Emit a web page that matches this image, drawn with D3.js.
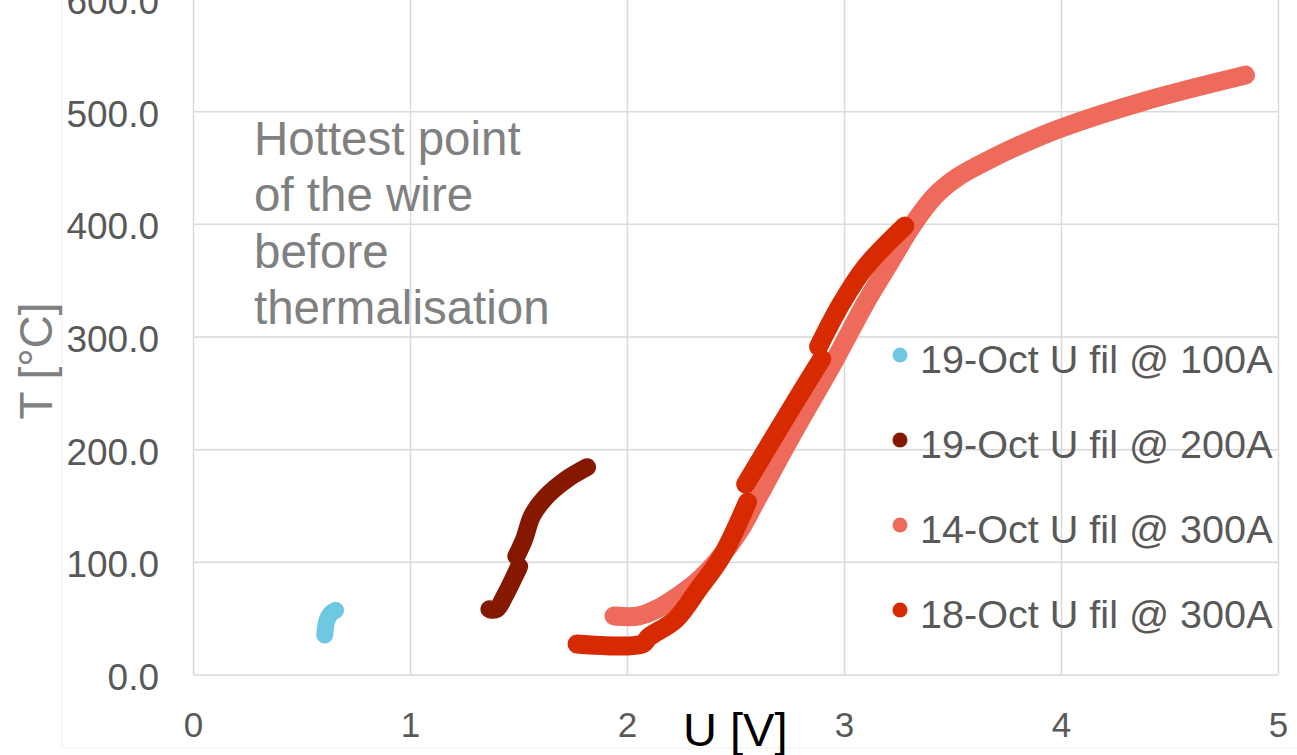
<!DOCTYPE html>
<html>
<head>
<meta charset="utf-8">
<script src="https://cdn.jsdelivr.net/npm/d3@7"></script>
<style>
  body { margin: 0; background: #fff; }
  text { font-family: "Liberation Sans", Arial, sans-serif; }
</style>
</head>
<body>
<div id="vis"></div>
<script>
// data (null = gap in the trace)
var seriesNames = ["19-Oct U fil @ 100A", "19-Oct U fil @ 200A", "14-Oct U fil @ 300A", "18-Oct U fil @ 300A"];
var seriesColors = ["#6fc8e2", "#861800", "#ee6a5a", "#d82a00"];

var u100 = [0.607, 0.616, 0.634, 0.657];
var t100 = [35, 47, 54, 57];

var u200 = [1.366, 1.398, 1.44, 1.503, null, 1.49, 1.526, 1.563, 1.628, 1.72, 1.816];
var t200 = [58, 58, 71, 96, null, 105, 120, 141, 158, 173, 184];

var u300a = [1.94, 2.055, 2.147, 2.23, 2.32, 2.42, 2.52, 2.60, 2.75, 2.96, 3.10, 3.20, 3.32, 3.42, 3.52, 3.65, 3.80, 4.0, 4.386, 4.85];
var t300a = [52, 52, 59, 69, 82, 102, 128, 156, 209, 280, 330, 362, 400, 425, 441, 455, 469, 485, 509, 532];

var u300b = [1.77, 2.07, 2.10, 2.225, 2.33, 2.437, 2.555, null, 2.547, 2.775, 2.897, null, 2.883, 2.99, 3.10, 3.28];
var t300b = [27, 27, 33, 49, 76, 105, 153, null, 169, 242, 280, null, 291, 330, 362, 398];

var xTicks = [0, 1, 2, 3, 4, 5];
var yTicks = [0, 100, 200, 300, 400, 500, 600];

var noteLines = ["Hottest point", "of the wire", "before", "thermalisation"];

var W = 1297, H = 755;

var svg = d3.select("#vis").append("svg")
    .attr("width", W)
    .attr("height", H);

// faint chart area border
svg.append("rect")
    .attr("x", 62).attr("y", -10)
    .attr("width", 1300).attr("height", 758)
    .attr("fill", "none")
    .attr("stroke", "#efefef");

var x = d3.scaleLinear().domain([0, 5]).range([193, 1278]);
var y = d3.scaleLinear().domain([0, 600]).range([674.5, -1.5]);

// gridlines
var gx = svg.append("g")
    .attr("transform", "translate(0," + y(0) + ")")
    .call(d3.axisBottom(x).tickValues(xTicks).tickSize(-(y(0) - y(600))).tickFormat(""));
var gy = svg.append("g")
    .attr("transform", "translate(" + x(0) + ",0)")
    .call(d3.axisLeft(y).tickValues(yTicks).tickSize(-(x(5) - x(0))).tickFormat(""));
gx.select(".domain").remove();
gy.select(".domain").remove();
svg.selectAll(".tick line").attr("stroke", "#d9d9d9").attr("stroke-width", 1.5);

// tick labels
var ax = svg.append("g")
    .attr("transform", "translate(0," + y(0) + ")")
    .call(d3.axisBottom(x).tickValues(xTicks).tickSize(0).tickPadding(37.5).tickFormat(d3.format("d")));
ax.select(".domain").remove();
ax.selectAll("text").attr("font-size", 35).attr("fill", "#595959")
    .style("font-family", "'Liberation Sans', Arial, sans-serif");

var ay = svg.append("g")
    .attr("transform", "translate(" + x(0) + ",0)")
    .call(d3.axisLeft(y).tickValues(yTicks).tickSize(0).tickPadding(34).tickFormat(d3.format(".1f")));
ay.select(".domain").remove();
ay.selectAll("text").attr("font-size", 37).attr("fill", "#595959").attr("dy", "0.405em")
    .style("font-family", "'Liberation Sans', Arial, sans-serif");

// series
var line = d3.line()
    .defined(function(d) { return d[0] != null; })
    .x(function(d) { return x(d[0]); })
    .y(function(d) { return y(d[1]); })
    .curve(d3.curveCatmullRom.alpha(0.5));

var series = [[u100, t100], [u200, t200], [u300a, t300a], [u300b, t300b]];
var widths = [17, 18, 19, 19];

series.forEach(function(s, i) {
    var pts = s[0].map(function(u, j) { return [u, s[1][j]]; });
    svg.append("path")
        .datum(pts)
        .attr("d", line)
        .attr("fill", "none")
        .attr("stroke", seriesColors[i])
        .attr("stroke-width", widths[i])
        .attr("stroke-linecap", "round")
        .attr("stroke-linejoin", "round");
});

// annotation
var note = svg.append("text")
    .attr("x", 254)
    .attr("font-size", 47.5)
    .attr("fill", "#808080");
note.selectAll("tspan")
    .data(noteLines).enter()
    .append("tspan")
    .attr("x", 254)
    .attr("y", function(d, i) { return 155 + i * 56.3; })
    .text(function(d) { return d; });

// legend
var leg = svg.append("g");
seriesNames.forEach(function(name, i) {
    var ly = 355 + i * 85;
    leg.append("circle")
        .attr("cx", 900).attr("cy", ly).attr("r", 7.5)
        .attr("fill", seriesColors[i]);
    leg.append("text")
        .attr("x", 920).attr("y", ly + 18)
        .attr("font-size", 39.6)
        .attr("fill", "#595959")
        .text(name);
});

// axis titles
svg.append("text")
    .attr("x", 683).attr("y", 746)
    .attr("font-size", 47)
    .attr("fill", "#000")
    .text("U [V]");

svg.append("text")
    .attr("transform", "translate(52,361) rotate(-90)")
    .attr("text-anchor", "middle")
    .attr("font-size", 46)
    .attr("fill", "#808080")
    .text("T [°C]");
</script>
</body>
</html>
